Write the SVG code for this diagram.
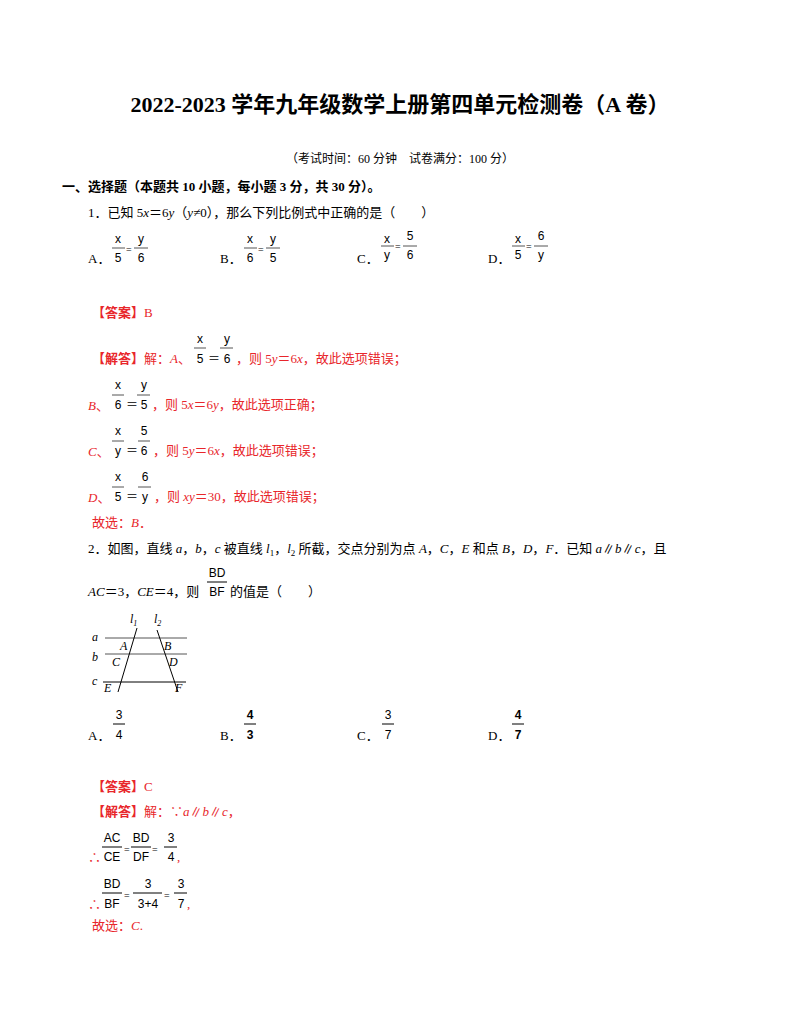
<svg xmlns="http://www.w3.org/2000/svg" width="800" height="1035" viewBox="0 0 800 1035">
<style>
text{font-family:"Liberation Serif","Noto Sans CJK SC",serif;font-size:13px;fill:#000}
.r{fill:#e8262b}
.b{font-weight:bold}
.f{font-family:"Liberation Sans","Noto Sans CJK SC",sans-serif;font-size:12px;text-anchor:middle}
.i{font-style:italic}
line{stroke:#000;stroke-width:1}
.rl{stroke:#555}
</style>
<rect width="800" height="1035" fill="#fff"/>
<text x="400" y="112" text-anchor="middle" class="b" style="font-size:22px">2022-2023 学年九年级数学上册第四单元检测卷（A 卷）</text>
<text x="400" y="163" text-anchor="middle" style="font-size:12px">（考试时间：60 分钟　试卷满分：100 分）</text>
<text x="62" y="191" class="b">一、选择题（本题共 10 小题，每小题 3 分，共 30 分）。</text>
<text x="88" y="217">1．已知 5<tspan class="i">x</tspan>＝6<tspan class="i">y</tspan>（<tspan class="i">y</tspan>≠0），那么下列比例式中正确的是（　　）</text>
<g id="q1opts">
<text x="88" y="263">A．</text><text x="220" y="263">B．</text><text x="357" y="263">C．</text><text x="488" y="263">D．</text>
<text class="f" x="118" y="243">x</text><line x1="112" y1="248" x2="125" y2="248" class="rl"/><text class="f" x="118" y="262">5</text>
<text x="126" y="253" style="font-size:10px">=</text>
<text class="f" x="141" y="243">y</text><line x1="134" y1="248" x2="148" y2="248" class="rl"/><text class="f" x="141" y="262">6</text>
<text class="f" x="250" y="243">x</text><line x1="244" y1="248" x2="257" y2="248" class="rl"/><text class="f" x="250" y="262">6</text>
<text x="258" y="253" style="font-size:10px">=</text>
<text class="f" x="273" y="243">y</text><line x1="266" y1="248" x2="280" y2="248" class="rl"/><text class="f" x="273" y="262">5</text>
<text class="f" x="387" y="243">x</text><line x1="381" y1="246" x2="394" y2="246" class="rl"/><text class="f" x="387" y="259">y</text>
<text x="395" y="250" style="font-size:10px">=</text>
<text class="f" x="410" y="240">5</text><line x1="403" y1="246" x2="417" y2="246" class="rl"/><text class="f" x="410" y="259">6</text>
<text class="f" x="518" y="243">x</text><line x1="512" y1="246" x2="525" y2="246" class="rl"/><text class="f" x="518" y="259">5</text>
<text x="526" y="250" style="font-size:10px">=</text>
<text class="f" x="541" y="240">6</text><line x1="534" y1="246" x2="548" y2="246" class="rl"/><text class="f" x="541" y="259">y</text>
</g>
<g id="q1ans">
<text x="92" y="317" class="r"><tspan class="b">【答案】</tspan>B</text>
<text x="92" y="363" class="r"><tspan class="b">【解答】</tspan>解：<tspan class="i">A</tspan>、</text>
<text class="f" x="200" y="343">x</text><line x1="194" y1="348" x2="206" y2="348" class="rl"/><text class="f" x="200" y="363">5</text>
<text x="208" y="363" style="font-size:12px">＝</text>
<text class="f" x="227" y="343">y</text><line x1="220" y1="348" x2="233" y2="348" class="rl"/><text class="f" x="227" y="363">6</text>
<text x="236" y="363" class="r">，则 5<tspan class="i">y</tspan>＝6<tspan class="i">x</tspan>，故此选项错误；</text>
<text x="88" y="410" class="r"><tspan class="i">B</tspan>、</text>
<text class="f" x="118" y="389">x</text><line x1="112" y1="395" x2="124" y2="395" class="rl"/><text class="f" x="118" y="409">6</text>
<text x="126" y="409" style="font-size:12px">＝</text>
<text class="f" x="144" y="389">y</text><line x1="137" y1="395" x2="150" y2="395" class="rl"/><text class="f" x="144" y="409">5</text>
<text x="152" y="409" class="r">，则 5<tspan class="i">x</tspan>＝6<tspan class="i">y</tspan>，故此选项正确；</text>
<text x="88" y="456" class="r"><tspan class="i">C</tspan>、</text>
<text class="f" x="118" y="435">x</text><line x1="112" y1="441" x2="124" y2="441" class="rl"/><text class="f" x="118" y="455">y</text>
<text x="126" y="455" style="font-size:12px">＝</text>
<text class="f" x="144" y="435">5</text><line x1="138" y1="441" x2="150" y2="441" class="rl"/><text class="f" x="144" y="455">6</text>
<text x="153" y="455" class="r">，则 5<tspan class="i">y</tspan>＝6<tspan class="i">x</tspan>，故此选项错误；</text>
<text x="88" y="502" class="r"><tspan class="i">D</tspan>、</text>
<text class="f" x="118" y="481">x</text><line x1="112" y1="487" x2="124" y2="487" class="rl"/><text class="f" x="118" y="501">5</text>
<text x="126" y="501" style="font-size:12px">＝</text>
<text class="f" x="145" y="481">6</text><line x1="138" y1="487" x2="151" y2="487" class="rl"/><text class="f" x="145" y="501">y</text>
<text x="154" y="501" class="r">，则 <tspan class="i">xy</tspan>＝30，故此选项错误；</text>
<text x="92" y="527" class="r">故选：<tspan class="i">B</tspan>．</text>
</g>
<text x="88" y="553">2．如图，直线 <tspan class="i">a</tspan>，<tspan class="i">b</tspan>，<tspan class="i">c</tspan> 被直线 <tspan class="i">l</tspan><tspan style="font-size:9px" dy="3">1</tspan><tspan dy="-3">，</tspan><tspan class="i">l</tspan><tspan style="font-size:9px" dy="3">2</tspan><tspan dy="-3"> 所截，交点分别为点 </tspan><tspan class="i">A</tspan>，<tspan class="i">C</tspan>，<tspan class="i">E</tspan> 和点 <tspan class="i">B</tspan>，<tspan class="i">D</tspan>，<tspan class="i">F</tspan>．已知 <tspan class="i">a</tspan>∥<tspan class="i">b</tspan>∥<tspan class="i">c</tspan>，且</text>
<text x="88" y="596"><tspan class="i">AC</tspan>＝3，<tspan class="i">CE</tspan>＝4，则</text>
<text class="f" x="217" y="577">BD</text><line x1="207" y1="582" x2="227" y2="582"/><text class="f" x="217" y="596">BF</text>
<text x="230" y="596">的值是（　　）</text>
<g id="figure">
<line x1="105" y1="638" x2="187" y2="638" class="rl"/>
<line x1="105" y1="654" x2="187" y2="654" class="rl"/>
<line x1="103" y1="682" x2="186" y2="682"/>
<line x1="137" y1="628" x2="118" y2="692"/>
<line x1="157" y1="630" x2="178" y2="692"/>
<g class="i" style="font-size:12px">
<text x="130" y="623" class="i" style="font-size:12px">l<tspan style="font-size:8px" dy="3">1</tspan></text>
<text x="154" y="623" class="i" style="font-size:12px">l<tspan style="font-size:8px" dy="3">2</tspan></text>
<text x="92" y="641" class="i" style="font-size:12px">a</text>
<text x="92" y="661" class="i" style="font-size:12px">b</text>
<text x="92" y="685" class="i" style="font-size:12px">c</text>
<text x="120" y="650" class="i" style="font-size:12px">A</text>
<text x="164" y="650" class="i" style="font-size:12px">B</text>
<text x="112" y="666" class="i" style="font-size:12px">C</text>
<text x="169" y="666" class="i" style="font-size:12px">D</text>
<text x="104" y="692" class="i" style="font-size:12px">E</text>
<text x="175" y="692" class="i" style="font-size:12px">F</text>
</g>
</g>
<g id="q2opts">
<text x="88" y="740">A．</text><text x="220" y="740">B．</text><text x="357" y="740">C．</text><text x="488" y="740">D．</text>
<text class="f" x="119" y="719">3</text><line x1="113" y1="724" x2="125" y2="724"/><text class="f" x="119" y="739">4</text>
<text class="f b" x="250" y="719">4</text><line x1="244" y1="724" x2="256" y2="724"/><text class="f b" x="250" y="739">3</text>
<text class="f" x="388" y="719">3</text><line x1="382" y1="724" x2="394" y2="724"/><text class="f" x="388" y="739">7</text>
<text class="f b" x="518" y="719">4</text><line x1="512" y1="724" x2="524" y2="724"/><text class="f b" x="518" y="739">7</text>
</g>
<g id="q2ans">
<text x="92" y="791" class="r"><tspan class="b">【答案】</tspan>C</text>
<text x="92" y="816" class="r"><tspan class="b">【解答】</tspan>解：∵<tspan class="i">a</tspan>∥<tspan class="i">b</tspan>∥<tspan class="i">c</tspan>，</text>
<text x="88" y="862" class="r">∴</text>
<text class="f" x="112" y="842">AC</text><line x1="102" y1="847" x2="122" y2="847"/><text class="f" x="112" y="861">CE</text>
<text x="124" y="853" style="font-size:10px">=</text>
<text class="f" x="141" y="842">BD</text><line x1="131" y1="847" x2="151" y2="847"/><text class="f" x="141" y="861">DF</text>
<text x="152" y="853" style="font-size:10px">=</text>
<text class="f" x="171" y="842">3</text><line x1="164" y1="847" x2="177" y2="847"/><text class="f" x="171" y="861">4</text>
<text x="177" y="861" class="r">,</text>
<text x="88" y="909" class="r">∴</text>
<text class="f" x="112" y="888">BD</text><line x1="102" y1="893" x2="122" y2="893"/><text class="f" x="112" y="908">BF</text>
<text x="124" y="899" style="font-size:10px">=</text>
<text class="f" x="148" y="888">3</text><line x1="133" y1="893" x2="162" y2="893"/><text class="f" x="148" y="908">3+4</text>
<text x="164" y="899" style="font-size:10px">=</text>
<text class="f" x="181" y="888">3</text><line x1="174" y1="893" x2="187" y2="893"/><text class="f" x="181" y="908">7</text>
<text x="187" y="908" class="r">,</text>
<text x="92" y="930" class="r">故选：<tspan class="i">C</tspan>.</text>
</g>
</svg>
